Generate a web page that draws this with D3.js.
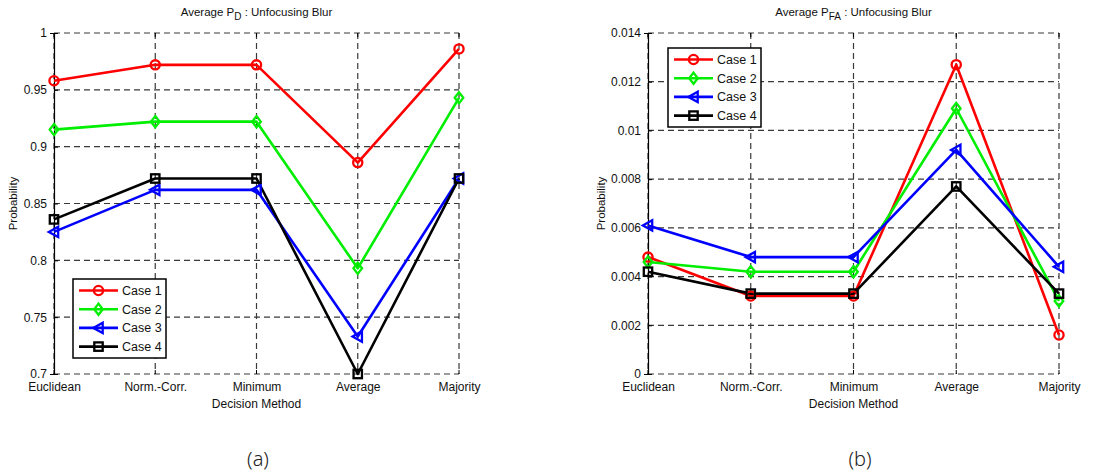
<!DOCTYPE html>
<html>
<head>
<meta charset="utf-8">
<script src="https://cdn.jsdelivr.net/npm/d3@7"></script>
<style>
  body { margin: 0; background: #fff; }
  svg { display: block; }
  svg text { font-family: "Liberation Sans", Arial, Helvetica, sans-serif; }
</style>
</head>
<body>
<div id="chart"></div>
<script>
// decision methods on the x axis
const methods = ["Euclidean", "Norm.-Corr.", "Minimum", "Average", "Majority"];
const caseNames = ["Case 1", "Case 2", "Case 3", "Case 4"];

// (a) average P_D
const pdCase1 = [0.958, 0.972, 0.972, 0.886, 0.986];
const pdCase2 = [0.915, 0.922, 0.922, 0.793, 0.943];
const pdCase3 = [0.825, 0.862, 0.862, 0.733, 0.872];
const pdCase4 = [0.836, 0.872, 0.872, 0.700, 0.872];
const pdTicks = [0.7, 0.75, 0.8, 0.85, 0.9, 0.95, 1];
const pdTickLabels = ["0.7", "0.75", "0.8", "0.85", "0.9", "0.95", "1"];

// (b) average P_FA
const faCase1 = [0.0048, 0.0032, 0.0032, 0.0127, 0.0016];
const faCase2 = [0.0046, 0.0042, 0.0042, 0.0109, 0.0030];
const faCase3 = [0.0061, 0.0048, 0.0048, 0.0092, 0.0044];
const faCase4 = [0.0042, 0.0033, 0.0033, 0.0077, 0.0033];
const faTicks = [0, 0.002, 0.004, 0.006, 0.008, 0.01, 0.012, 0.014];
const faTickLabels = ["0", "0.002", "0.004", "0.006", "0.008", "0.01", "0.012", "0.014"];

const colors = ["#ff0000", "#00ee00", "#0000ff", "#000000"];
const markers = ["circle", "diamond", "triangle", "square"];

const svg = d3.select("#chart").append("svg")
    .attr("width", 1113)
    .attr("height", 473);

function drawMarker(g, type, x, y, color) {
    if (type === "circle") {
        g.append("circle").attr("cx", x).attr("cy", y).attr("r", 4.6)
            .attr("fill", "none").attr("stroke", color).attr("stroke-width", 2.3);
    } else if (type === "diamond") {
        g.append("path")
            .attr("d", `M${x},${y - 5.6}L${x + 4.3},${y}L${x},${y + 5.6}L${x - 4.3},${y}Z`)
            .attr("fill", "none").attr("stroke", color).attr("stroke-width", 2.3);
    } else if (type === "triangle") {
        g.append("path")
            .attr("d", `M${x - 5.2},${y}L${x + 4.2},${y - 5.2}L${x + 4.2},${y + 5.2}Z`)
            .attr("fill", "none").attr("stroke", color).attr("stroke-width", 2.3);
    } else {
        g.append("rect").attr("x", x - 4.2).attr("y", y - 4.2).attr("width", 8.4).attr("height", 8.4)
            .attr("fill", "none").attr("stroke", color).attr("stroke-width", 2.3);
    }
}

function drawPanel(p) {
    const x = d3.scalePoint().domain(methods).range([p.left, p.right]);
    const y = d3.scaleLinear().domain(p.domain).range([p.bottom, p.top]);
    const g = svg.append("g");

    // dashed grid
    g.selectAll(".hgrid").data(p.ticks).enter().append("line")
        .attr("x1", p.left).attr("x2", p.right)
        .attr("y1", d => y(d)).attr("y2", d => y(d))
        .attr("stroke", "#3a3a3a").attr("stroke-width", 1.2)
        .attr("stroke-dasharray", "6,4");
    g.selectAll(".vgrid").data(methods).enter().append("line")
        .attr("x1", d => x(d)).attr("x2", d => x(d))
        .attr("y1", p.top).attr("y2", p.bottom)
        .attr("stroke", "#3a3a3a").attr("stroke-width", 1.2)
        .attr("stroke-dasharray", "6,4");

    // left axis
    const yAxis = d3.axisLeft(y).tickValues(p.ticks)
        .tickFormat((d, i) => p.tickLabels[i]).tickSize(4).tickPadding(3);
    const ya = g.append("g").attr("transform", `translate(${p.left},0)`).call(yAxis)
        .attr("font-family", null).attr("font-size", null);
    ya.select(".domain").attr("stroke", "#000").attr("stroke-width", 1.2);
    ya.selectAll("text").style("font-size", "12px").attr("fill", "#111");
    ya.selectAll(".tick line").attr("x2", 4).attr("stroke", "#000");

    // bottom axis labels
    const xAxis = d3.axisBottom(x).tickSize(0).tickPadding(8);
    const xa = g.append("g").attr("transform", `translate(0,${p.bottom})`).call(xAxis)
        .attr("font-family", null).attr("font-size", null);
    xa.select(".domain").remove();
    xa.selectAll("text").style("font-size", "12px").attr("fill", "#111");
    g.selectAll(".xt").data(methods).enter().append("line")
        .attr("x1", d => x(d)).attr("x2", d => x(d))
        .attr("y1", p.bottom).attr("y2", p.bottom - 4).attr("stroke", "#000");
    g.selectAll(".xtt").data(methods).enter().append("line")
        .attr("x1", d => x(d)).attr("x2", d => x(d))
        .attr("y1", p.top).attr("y2", p.top + 4).attr("stroke", "#000");

    // titles
    const t = g.append("text")
        .attr("x", (p.left + p.right) / 2).attr("y", 16)
        .attr("text-anchor", "middle").style("font-size", "11.5px").attr("fill", "#111");
    t.append("tspan").text("Average P");
    t.append("tspan").attr("dy", 4).style("font-size", "10px").text(p.sub);
    t.append("tspan").attr("dy", -4).text(" : Unfocusing Blur");

    g.append("text")
        .attr("x", (p.left + p.right) / 2).attr("y", p.bottom + 34)
        .attr("text-anchor", "middle").style("font-size", "12px").attr("fill", "#111")
        .text("Decision Method");

    g.append("text")
        .attr("transform", `translate(${p.yLabelX},${(p.top + p.bottom) / 2}) rotate(-90)`)
        .attr("text-anchor", "middle").style("font-size", "11.5px").attr("fill", "#111")
        .text("Probability");

    // series
    const line = d3.line().x((d, i) => x(methods[i])).y(d => y(d));
    p.series.forEach((s, k) => {
        g.append("path").datum(s).attr("d", line)
            .attr("fill", "none").attr("stroke", colors[k]).attr("stroke-width", 2.6)
            .attr("stroke-linejoin", "round");
    });
    p.series.forEach((s, k) => {
        s.forEach((v, i) => drawMarker(g, markers[k], x(methods[i]), y(v), colors[k]));
    });

    // legend
    const lg = g.append("g").attr("transform", `translate(${p.legend[0]},${p.legend[1]})`);
    lg.append("rect").attr("width", 93).attr("height", 79)
        .attr("fill", "#fff").attr("stroke", "#000").attr("stroke-width", 1.5);
    caseNames.forEach((name, k) => {
        const ly = 11.5 + k * 18.7;
        lg.append("line").attr("x1", 6).attr("x2", 45).attr("y1", ly).attr("y2", ly)
            .attr("stroke", colors[k]).attr("stroke-width", 2.6);
        drawMarker(lg, markers[k], 25.5, ly, colors[k]);
        lg.append("text").attr("x", 49).attr("y", ly + 4.5)
            .style("font-size", "12.5px").attr("fill", "#111").text(name);
    });

    // panel caption
    svg.append("text")
        .attr("x", p.caption).attr("y", 466)
        .attr("text-anchor", "middle")
        .style("font-family", "'Noto Sans', 'DejaVu Sans', sans-serif")
        .style("font-size", "20px").style("font-weight", 300).attr("fill", "#222")
        .text(p.captionText);
}

drawPanel({
    left: 54, right: 459, top: 33, bottom: 374, yLabelX: 17,
    domain: [0.7, 1], ticks: pdTicks, tickLabels: pdTickLabels, sub: "D",
    series: [pdCase1, pdCase2, pdCase3, pdCase4],
    legend: [73, 279], caption: 258, captionText: "(a)"
});

drawPanel({
    left: 648, right: 1059, top: 33, bottom: 374, yLabelX: 605,
    domain: [0, 0.014], ticks: faTicks, tickLabels: faTickLabels, sub: "FA",
    series: [faCase1, faCase2, faCase3, faCase4],
    legend: [668, 48], caption: 860, captionText: "(b)"
});
</script>
</body>
</html>
